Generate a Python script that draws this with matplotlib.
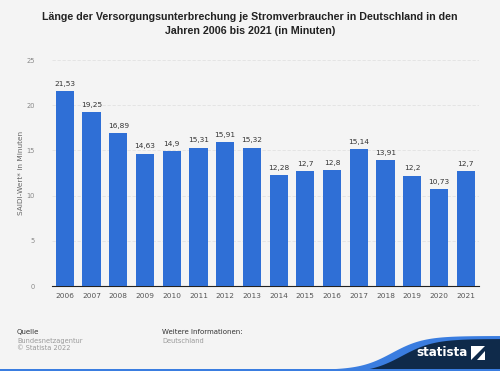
import numpy as np
import matplotlib.pyplot as plt
from matplotlib.patches import Polygon, Rectangle

years = ['2006', '2007', '2008', '2009', '2010', '2011', '2012', '2013',
         '2014', '2015', '2016', '2017', '2018', '2019', '2020', '2021']
saidi = [21.53, 19.25, 16.89, 14.63, 14.9, 15.31, 15.91, 15.32,
         12.28, 12.7, 12.8, 15.14, 13.91, 12.2, 10.73, 12.7]
yticks = [0, 5, 10, 15, 20, 25]

bg = '#f4f4f4'
bar_col = '#2f6fd6'

fig = plt.figure(figsize=(5.0, 3.71), dpi=100, facecolor=bg)
ax = fig.add_axes([0.103, 0.229, 0.855, 0.609], facecolor=bg)

x = np.arange(len(years))
ax.bar(x, saidi, width=0.68, color=bar_col, zorder=3)
for xi, v in zip(x, saidi):
    ax.text(xi, v + 0.5, f'{v:g}'.replace('.', ','), ha='center', va='bottom',
            fontsize=5.3, color='#333333')

ax.set_xlim(-0.5, len(years) - 0.5)
ax.set_ylim(0, 25)
ax.set_yticks(yticks)
ax.set_xticks(x)
ax.set_xticklabels(years)
ax.tick_params(axis='y', length=0, labelsize=4.8, labelcolor='#888888', pad=12)
ax.tick_params(axis='x', length=0, labelsize=5.3, labelcolor='#555555', pad=5)
ax.grid(axis='y', color='#e2e2e2', linewidth=0.6, linestyle=(0, (4, 2)), zorder=0)
for s in ['top', 'right', 'left']:
    ax.spines[s].set_visible(False)
ax.spines['bottom'].set_color('#222222')
ax.spines['bottom'].set_linewidth(0.8)
ax.set_ylabel('SAIDI-Wert* in Minuten', fontsize=5.3, color='#666666', labelpad=2)

fig.text(0.5, 0.968, 'Länge der Versorgungsunterbrechung je Stromverbraucher in Deutschland in den\nJahren 2006 bis 2021 (in Minuten)',
         ha='center', va='top', fontsize=7.7, fontweight='bold', color='#222222',
         linespacing=1.55, family='Liberation Sans')

fig.text(0.034, 0.105, 'Quelle', fontsize=5.0, color='#333333', va='center')
fig.text(0.034, 0.081, 'Bundesnetzagentur', fontsize=4.8, color='#999999', va='center')
fig.text(0.034, 0.061, '© Statista 2022', fontsize=4.8, color='#999999', va='center')
fig.text(0.324, 0.105, 'Weitere Informationen:', fontsize=5.0, color='#333333', va='center')
fig.text(0.324, 0.081, 'Deutschland', fontsize=4.8, color='#999999', va='center')

# logo area
ov = fig.add_axes([0, 0, 1, 1], facecolor='none')
ov.set_xlim(0, 500)
ov.set_ylim(371, 0)
ov.axis('off')
xs = np.linspace(300, 500, 80)
wave_top = 371 - 34 / (1 + np.exp(-(xs - 392) / 16))
ov.add_patch(Polygon(np.column_stack([np.r_[xs, 500, 300], np.r_[wave_top - 1, 371, 371]]),
                     closed=True, color='#3a7de0', lw=0))
ov.add_patch(Polygon(np.column_stack([np.r_[xs + 10, 500, 310], np.r_[wave_top + 2, 371, 371]]),
                     closed=True, color='#0f2a4a', lw=0))
ov.add_patch(Rectangle((0, 368.5), 500, 2.5, color='#3a7de0', lw=0))
ov.text(468, 353, 'statista', fontsize=8.6, color='white', fontweight='bold',
        ha='right', va='center')
ov.add_patch(Polygon([[471, 360], [471, 346], [485, 346], [485, 360]], closed=True,
                     color='white', lw=0))
ov.add_patch(Polygon([[471, 360], [485, 346], [485, 351], [477, 360]], closed=True,
                     color='#0f2a4a', lw=0))

fig.savefig('out.png', dpi=100, facecolor=bg)
